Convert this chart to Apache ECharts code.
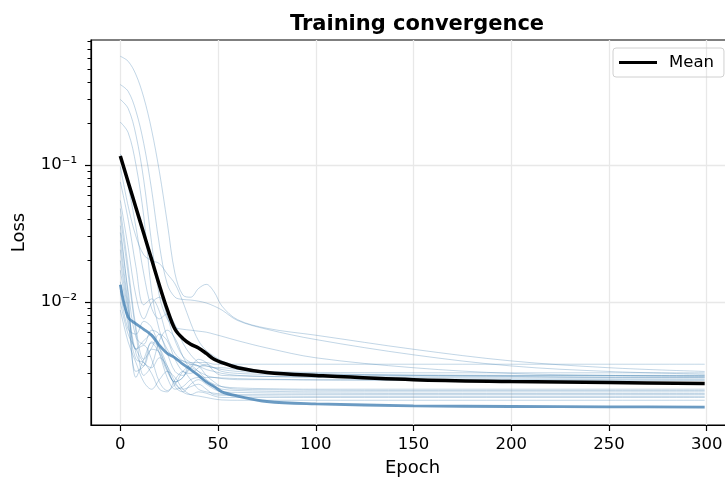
<!DOCTYPE html>
<html>
<head>
<meta charset="utf-8">
<script src="https://cdn.jsdelivr.net/npm/echarts@6/dist/echarts.min.js"></script>
<style>
  html, body { margin: 0; padding: 0; background: #fff; }
  #chart { width: 725px; height: 479px; }
</style>
</head>
<body>
<div id="chart"></div>
<script>
const epochs = [0, 4, 8, 12, 16, 20, 24, 28, 32, 36, 40, 44, 48, 52, 60, 75, 100, 150, 200, 250, 299];

// individual runs (thin lines)
const run01 = [0.62, 0.57, 0.455, 0.31, 0.18, 0.089, 0.038, 0.016, 0.0112, 0.0108, 0.0125, 0.0134, 0.0118, 0.0093, 0.0074, 0.0064, 0.0057, 0.0045, 0.0037, 0.0033, 0.0031];
const run02 = [0.385, 0.344, 0.247, 0.143, 0.066, 0.026, 0.0135, 0.0108, 0.0104, 0.0103, 0.0101, 0.0098, 0.0093, 0.0087, 0.0073, 0.0063, 0.0053, 0.0041, 0.0034, 0.0031, 0.00296];
const run03 = [0.30, 0.258, 0.165, 0.077, 0.027, 0.011, 0.0075, 0.0065, 0.0063, 0.0062, 0.0061, 0.006, 0.0058, 0.0056, 0.0052, 0.0046, 0.0039, 0.0033, 0.003, 0.0029, 0.00285];
const run04 = [0.205, 0.172, 0.10, 0.042, 0.012, 0.0062, 0.0045, 0.0039, 0.0037, 0.0036, 0.0036, 0.0036, 0.0035, 0.0035, 0.0035, 0.0035, 0.0035, 0.0035, 0.0035, 0.0035, 0.0035];
const run05 = [0.12, 0.07, 0.035, 0.016, 0.009, 0.0075, 0.0082, 0.0068, 0.005, 0.0041, 0.0036, 0.0034, 0.0033, 0.0032, 0.0031, 0.00302, 0.00296, 0.00292, 0.0029, 0.0029, 0.0029];
const run06 = [0.097, 0.05, 0.03, 0.022, 0.02, 0.019, 0.016, 0.0135, 0.01, 0.007, 0.0052, 0.0044, 0.004, 0.0037, 0.0034, 0.0031, 0.003, 0.0029, 0.00285, 0.0028, 0.0028];
const run07 = [0.075, 0.04, 0.018, 0.0095, 0.0105, 0.0085, 0.0055, 0.0042, 0.0037, 0.0035, 0.0034, 0.0034, 0.0033, 0.0033, 0.0032, 0.0031, 0.00305, 0.00303, 0.00303, 0.00303, 0.00303];
const run08 = [0.055, 0.025, 0.011, 0.0075, 0.0098, 0.0108, 0.0078, 0.0052, 0.004, 0.0036, 0.0034, 0.0032, 0.0031, 0.003, 0.0029, 0.00285, 0.0028, 0.00278, 0.00277, 0.00277, 0.00277];
const run09 = [0.048, 0.018, 0.0065, 0.0038, 0.0046, 0.0058, 0.0052, 0.0038, 0.0031, 0.003, 0.0033, 0.0035, 0.0033, 0.0031, 0.003, 0.00295, 0.0029, 0.0029, 0.0029, 0.0029, 0.0029];
const run10 = [0.042, 0.016, 0.006, 0.0029, 0.0034, 0.0052, 0.0062, 0.0054, 0.004, 0.0032, 0.0029, 0.0028, 0.0028, 0.00275, 0.0027, 0.0027, 0.00268, 0.00267, 0.00267, 0.00267, 0.00267];
const run11 = [0.036, 0.011, 0.0028, 0.0038, 0.005, 0.0042, 0.0031, 0.0026, 0.0028, 0.0033, 0.0031, 0.0029, 0.0028, 0.00278, 0.00275, 0.00272, 0.0027, 0.0027, 0.0027, 0.0027, 0.0027];
const run12 = [0.032, 0.012, 0.0055, 0.0049, 0.0062, 0.0058, 0.0042, 0.0031, 0.0029, 0.0033, 0.0038, 0.0036, 0.0031, 0.0029, 0.00288, 0.00285, 0.00284, 0.00283, 0.00283, 0.00283, 0.00283];
const run13 = [0.028, 0.0098, 0.0045, 0.0048, 0.0038, 0.0026, 0.00225, 0.0025, 0.0031, 0.0034, 0.0031, 0.0027, 0.0025, 0.0024, 0.00235, 0.00232, 0.0023, 0.0023, 0.0023, 0.0023, 0.0023];
const run14 = [0.024, 0.009, 0.0042, 0.0034, 0.0045, 0.0043, 0.0032, 0.0026, 0.0028, 0.0035, 0.0034, 0.0029, 0.0026, 0.0024, 0.0023, 0.00228, 0.00226, 0.00225, 0.00225, 0.00225, 0.00225];
const run15 = [0.02, 0.0085, 0.0045, 0.0052, 0.0058, 0.0042, 0.0028, 0.0023, 0.0024, 0.0027, 0.0028, 0.0026, 0.0024, 0.0023, 0.00225, 0.00222, 0.0022, 0.0022, 0.0022, 0.0022, 0.0022];
const run16 = [0.017, 0.0075, 0.0031, 0.0034, 0.0051, 0.0046, 0.0034, 0.0024, 0.0022, 0.0025, 0.0027, 0.0025, 0.0023, 0.0022, 0.00218, 0.00216, 0.00215, 0.00214, 0.00214, 0.00214, 0.00214];
const run17 = [0.014, 0.0068, 0.0038, 0.0036, 0.003, 0.0023, 0.0022, 0.0027, 0.0031, 0.0027, 0.0023, 0.0022, 0.00215, 0.00212, 0.0021, 0.0021, 0.0021, 0.0021, 0.0021, 0.0021, 0.0021];
const run18 = [0.012, 0.0063, 0.0058, 0.0072, 0.0065, 0.0046, 0.0032, 0.0025, 0.0023, 0.0024, 0.0025, 0.0023, 0.0021, 0.00208, 0.00206, 0.00205, 0.00204, 0.00204, 0.00204, 0.00204, 0.00204];
const run19 = [0.01, 0.0058, 0.0045, 0.0036, 0.0033, 0.0039, 0.0034, 0.0026, 0.0022, 0.0021, 0.0022, 0.00215, 0.00205, 0.002, 0.002, 0.002, 0.002, 0.002, 0.002, 0.002, 0.002];
const run20 = [0.0087, 0.0051, 0.0036, 0.0026, 0.0023, 0.0027, 0.0031, 0.0028, 0.0023, 0.0021, 0.00205, 0.002, 0.00195, 0.00192, 0.00191, 0.00191, 0.00191, 0.00191, 0.00191, 0.00191, 0.00191];

const runs = [run01, run02, run03, run04, run05, run06, run07, run08, run09, run10,
              run11, run12, run13, run14, run15, run16, run17, run18, run19, run20];

// highlighted run (thick blue) and the mean (black)
const bestRun = [0.0133, 0.0077, 0.0069, 0.0063, 0.0057, 0.0048, 0.0042, 0.0039, 0.0035, 0.0032, 0.0029, 0.0026, 0.0024, 0.0022, 0.00205, 0.00187, 0.0018, 0.00174, 0.00172, 0.00171, 0.0017];
const meanLoss = [0.116, 0.075, 0.0486, 0.0315, 0.0204, 0.0132, 0.0088, 0.0063, 0.0054, 0.0049, 0.0046, 0.0042, 0.0038, 0.0036, 0.0033, 0.00305, 0.0029, 0.0027, 0.00262, 0.00257, 0.00253];

// axis ticks
const xTicks = [0, 50, 100, 150, 200, 250, 300];
const yMajor = [0.01, 0.1];
const yMinor = [0.002, 0.003, 0.004, 0.005, 0.006, 0.007, 0.008, 0.009,
                0.02, 0.03, 0.04, 0.05, 0.06, 0.07, 0.08, 0.09,
                0.2, 0.3, 0.4, 0.5, 0.6, 0.7, 0.8];

const pairs = arr => epochs.map((e, i) => [e, arr[i]]);

const FONT = 'DejaVu Sans';
const chart = echarts.init(document.getElementById('chart'), null, { renderer: 'canvas' });

const series = runs.map((r, i) => ({
  name: 'run' + (i + 1),
  type: 'line',
  data: pairs(r),
  symbol: 'none',
  smooth: 0.35,
  silent: true,
  lineStyle: { color: 'rgba(70,130,180,0.33)', width: 1 },
  z: 2
}));

series.push({
  name: 'Best',
  type: 'line',
  data: pairs(bestRun),
  symbol: 'none',
  smooth: 0.35,
  lineStyle: { color: 'rgba(70,130,180,0.8)', width: 2.8 },
  z: 3
});

series.push({
  name: 'Mean',
  type: 'line',
  data: pairs(meanLoss),
  symbol: 'none',
  smooth: 0.35,
  itemStyle: { color: '#000' },
  lineStyle: { color: '#000', width: 3.5 },
  z: 4
});

chart.setOption({
  animation: false,
  textStyle: { fontFamily: FONT },
  title: {
    text: 'Training convergence',
    left: 412,
    top: 9,
    textAlign: 'center',
    textStyle: { fontFamily: FONT, fontSize: 21, fontWeight: 'bold', color: '#000' }
  },
  legend: {
    data: ['Mean'],
    left: 613,
    top: 48,
    padding: [6, 10, 6, 6],
    icon: 'rect',
    itemWidth: 38,
    itemHeight: 3,
    borderColor: '#d0d0d0',
    borderWidth: 1,
    borderRadius: 3,
    textStyle: { fontFamily: FONT, fontSize: 16.5, color: '#000', padding: [0, 0, 0, 7] }
  },
  grid: {
    left: 91, top: 40, width: 643, height: 385,
    outerBoundsMode: 'none',
    containLabel: false,
    show: true, borderColor: '#000', borderWidth: 1.2
  },
  xAxis: {
    type: 'value',
    min: -15,
    max: 314,
    name: 'Epoch',
    nameLocation: 'middle',
    nameGap: 34,
    nameTextStyle: { fontFamily: FONT, fontSize: 18, color: '#000' },
    axisLine: { onZero: false, lineStyle: { color: '#000', width: 1.2 } },
    axisTick: { show: true, length: 6, customValues: xTicks, lineStyle: { color: '#000', width: 1.2 } },
    axisLabel: { customValues: xTicks, margin: 11, fontFamily: FONT, fontSize: 16.5, color: '#000' },
    splitLine: { show: true, lineStyle: { color: '#e8e8e8', width: 1.3 } }
  },
  yAxis: [{
    type: 'log',
    min: 0.00126,
    max: 0.815,
    name: 'Loss',
    nameLocation: 'middle',
    nameGap: 63,
    nameTextStyle: { fontFamily: FONT, fontSize: 18, color: '#000' },
    axisLine: { show: true, onZero: false, lineStyle: { color: '#000', width: 1.2 } },
    axisTick: { show: true, length: 6, customValues: yMajor, lineStyle: { color: '#000', width: 1.2 } },
    axisLabel: {
      customValues: yMajor,
      margin: 14,
      fontFamily: FONT, fontSize: 16.5, color: '#000',
      formatter: v => (Math.abs(Math.log10(v) + 1) < 0.01 ? '10\u207B\u00B9' : '10\u207B\u00B2')
    },
    splitLine: { show: true, lineStyle: { color: '#e8e8e8', width: 1.3 } }
  }, {
    // minor ticks only
    type: 'log',
    min: 0.00126,
    max: 0.815,
    position: 'left',
    axisLine: { show: false, onZero: false },
    axisTick: { show: true, length: 3.5, customValues: yMinor, lineStyle: { color: '#000', width: 1 } },
    axisLabel: { show: false },
    splitLine: { show: false }
  }],
  series: series
});

window.addEventListener('resize', () => chart.resize());
</script>
</body>
</html>
